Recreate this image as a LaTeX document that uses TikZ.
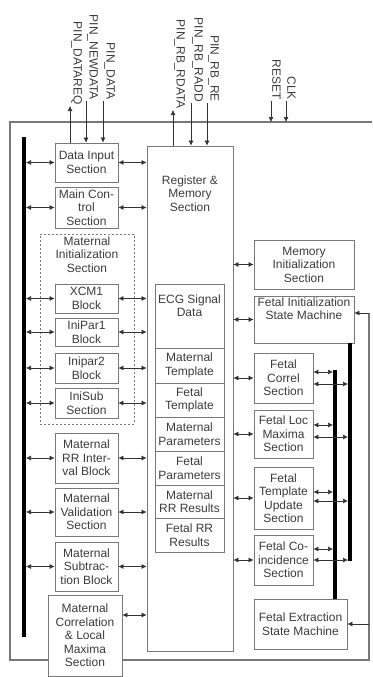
\documentclass[tikz,border=0pt]{standalone}
\usepackage{fontspec}
\setmainfont{Liberation Sans}
\usepackage{xcolor}
\usetikzlibrary{arrows.meta}
\definecolor{framegray}{RGB}{120,120,120}
\definecolor{textgray}{RGB}{60,60,60}

\tikzset{
  txt/.style={align=center, inner sep=0pt, text=textgray, font=\fontsize{12}{13.5}\selectfont},
  blk/.style={txt, draw=framegray, line width=0.9pt, fill=white},
  cell/.style={blk, minimum width=69},
  link/.style={{Latex[length=5pt,width=5pt]}-{Latex[length=5pt,width=5pt]}, draw=black!80, line width=0.6pt},
  pin/.style={-{Latex[length=5pt,width=5pt]}, draw=black!80, line width=0.6pt},
  pinlbl/.style={txt, rotate=-90, anchor=south east, inner sep=1pt},
  bus/.style={line width=3.5pt, black},
  frame/.style={draw=framegray, line width=1.2pt}
}

\begin{document}
\begin{tikzpicture}[x=1pt,y=-1pt]
  \useasboundingbox (0,0) rectangle (372,677);

  % outer frame (right side doubles as feedback line)
  \coordinate (frTL) at (10,122);
  \coordinate (frTR) at (372,122);
  \coordinate (frBL) at (10,660);
  \coordinate (frBR) at (369,660);
  \coordinate (fbTop) at (369,313);
  \draw[frame] (frTR) -- (frTL) -- (frBL) -- (frBR) -- (fbTop);

  % maternal initialization group
  \node[draw=framegray, line width=0.9pt, dash pattern=on 2pt off 2pt,
        minimum width=94, minimum height=190] (minit) at (87,329) {};
  \node[txt, below=3pt] (minitT) at (minit.north) {Maternal\\Initialization\\Section};

  % left column
  \node[blk, minimum width=63, minimum height=39] (din)  at (86.5,162.5) {Data Input\\Section};
  \node[blk, minimum width=63, minimum height=41] (mcs)  at (86.5,207.5) {Main Con-\\trol\\Section};
  \node[blk, minimum width=63, minimum height=29] (xcm)  at (86.5,298.5) {XCM1\\Block};
  \node[blk, minimum width=63, minimum height=28] (ip1)  at (86.5,332)   {IniPar1\\Block};
  \node[blk, minimum width=63, minimum height=30] (ip2)  at (86.5,368)   {Inipar2\\Block};
  \node[blk, minimum width=63, minimum height=30] (isub) at (86.5,403)   {IniSub\\Section};
  \node[blk, minimum width=63, minimum height=50] (mrr)  at (86.5,458)   {Maternal\\RR Inter-\\val Block};
  \node[blk, minimum width=63, minimum height=48] (mval) at (86.5,512)   {Maternal\\Validation\\Section};
  \node[blk, minimum width=63, minimum height=49] (msub) at (86.5,566.5) {Maternal\\Subtrac-\\tion Block};
  \node[blk, minimum width=74, minimum height=81] (mcor) at (85,635.5)  {Maternal\\Correlation\\\& Local\\Maxima\\Section};

  % register & memory section with its cells
  \node[blk, minimum width=86, minimum height=505] (reg) at (190,398.5) {};
  \node[txt, below=30pt] (regT) at (reg.north) {Register \&\\Memory\\Section};
  \node[cell, minimum height=64] (ecg)  at (189.5,316) {};
  \node[txt, below=11pt] (ecgT) at (ecg.north) {ECG Signal\\Data};
  \node[cell, minimum height=35] (mtpl) at (189.5,365.5) {Maternal\\Template};
  \node[cell, minimum height=34] (ftpl) at (189.5,400)   {Fetal\\Template};
  \node[cell, minimum height=34] (mpar) at (189.5,434)   {Maternal\\Parameters};
  \node[cell, minimum height=34] (fpar) at (189.5,468)   {Fetal\\Parameters};
  \node[cell, minimum height=33] (mrrr) at (189.5,501.5) {Maternal\\RR Results};
  \node[cell, minimum height=34] (frrr) at (189.5,535)   {Fetal RR\\Results};

  % right column
  \node[blk, minimum width=100, minimum height=49] (meminit) at (304,264.5) {Memory\\Initialization\\Section};
  \node[blk, minimum width=100, minimum height=47] (finit)   at (304,319.5) {};
  \node[txt, below=2pt] (finitT) at (finit.north) {Fetal Initialization\\State Machine};
  \node[blk, minimum width=59, minimum height=50] (fcor) at (283.5,378) {Fetal\\Correl\\Section};
  \node[blk, minimum width=59, minimum height=48] (floc) at (283.5,434) {Fetal Loc\\Maxima\\Section};
  \node[blk, minimum width=59, minimum height=62] (ftmp) at (283.5,498) {Fetal\\Template\\Update\\Section};
  \node[blk, minimum width=59, minimum height=50] (fcoi) at (283.5,560) {Fetal Co-\\incidence\\Section};
  \node[blk, minimum width=93, minimum height=50] (fext) at (300.5,624) {Fetal Extraction\\State Machine};

  % left bus
  \coordinate (lbusT) at (24,137);
  \coordinate (lbusB) at (24,637);
  \draw[bus] (lbusT) -- (lbusB);
  \foreach \b in {din,mcs,xcm,ip1,ip2,isub,mrr,mval,msub}
    \draw[link, shorten <=2pt] (lbusT |- \b.west) -- (\b.west);

  % links into register & memory
  \foreach \b in {din,mcs,xcm,ip1,ip2,isub,mrr,mval,msub}
    \draw[link] (\b.east) -- (reg.west |- \b.east);
  \draw[link] (mcor.east |- 0,615) -- (reg.west |- 0,615);
  \foreach \b in {meminit,finit,fcor,floc,ftmp,fcoi}
    \draw[link] (reg.east |- \b.west) -- (\b.west);

  % fetal buses
  \coordinate (busAtop) at (335,370);
  \coordinate (busBbot) at (350,561);
  \draw[bus] (busAtop) -- (busAtop |- fext.north);
  \draw[bus] (finit.south -| busBbot) -- (busBbot);
  \foreach \b/\u/\l in {fcor/372/384, floc/425/437, ftmp/492/501, fcoi/549/560} {
    \draw[link, shorten >=2pt] (\b.east |- 0,\u) -- (busAtop |- 0,\u);
    \draw[link, shorten >=2pt] (\b.east |- 0,\l) -- (busBbot |- 0,\l);
  }

  % feedback into the state machines
  \draw[pin] (fbTop) -- (finit.east |- fbTop);
  \draw[pin] (frBR |- fext.east) -- (fext.east);

  % pins of data input section
  \coordinate (pdreq) at (70,106);
  \coordinate (pnew)  at (86,101);
  \coordinate (pdat)  at (103,101);
  \draw[pin] (din.north -| pdreq) -- (pdreq) node[pinlbl] {PIN\_DATAREQ};
  \draw[pin] (pnew) node[pinlbl] {PIN\_NEWDATA} -- (din.north -| pnew);
  \draw[pin] (pdat) node[pinlbl] {PIN\_DATA} -- (din.north -| pdat);

  % pins of register & memory section
  \coordinate (prdat) at (173,110);
  \coordinate (pradd) at (191,103);
  \coordinate (prre)  at (207,103);
  \draw[pin] (reg.north -| prdat) -- (prdat) node[pinlbl] {PIN\_RB\_RDATA};
  \draw[pin] (pradd) node[pinlbl] {PIN\_RB\_RADD} -- (reg.north -| pradd);
  \draw[pin] (prre) node[pinlbl] {PIN\_RB\_RE} -- (reg.north -| prre);

  % global inputs
  \coordinate (preset) at (271,101);
  \coordinate (pclk)   at (286,101);
  \draw[pin] (preset) node[pinlbl] {RESET} -- (preset |- frTL);
  \draw[pin] (pclk) node[pinlbl] {CLK} -- (pclk |- frTL);
\end{tikzpicture}
\end{document}
